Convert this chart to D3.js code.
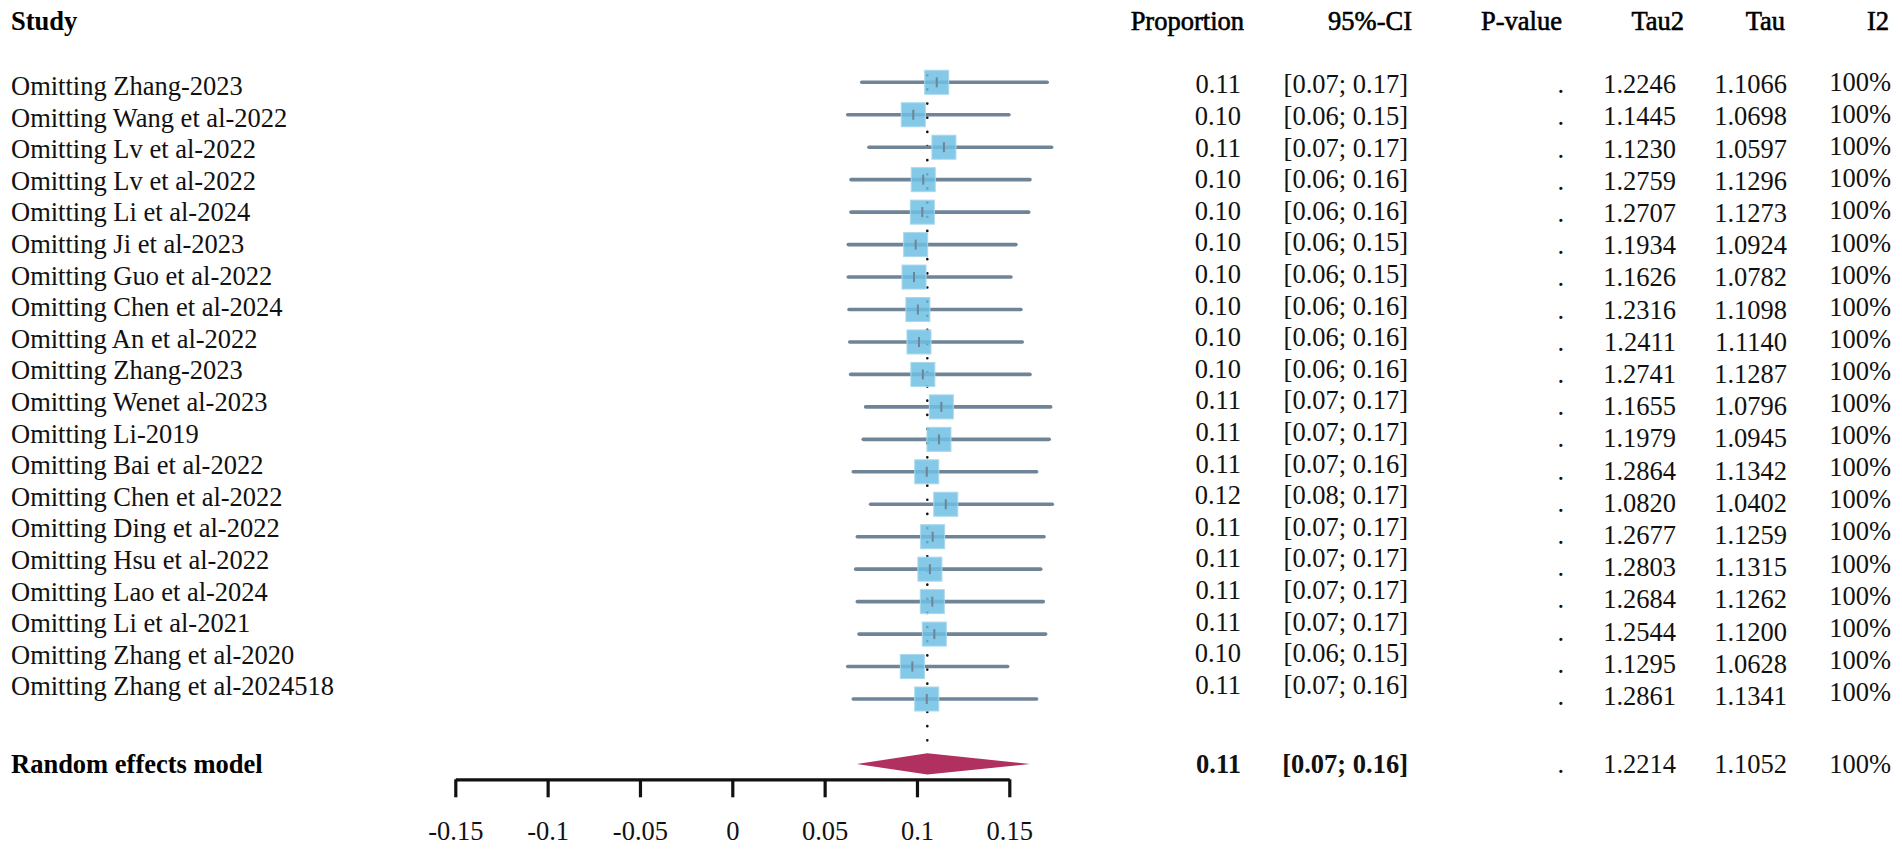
<!DOCTYPE html>
<html>
<head>
<meta charset="utf-8">
<script src="https://cdn.jsdelivr.net/npm/d3@7"></script>
<style>
  body { margin: 0; background: #fff; }
  text { font-family: "Liberation Serif", "Times New Roman", serif; }
</style>
</head>
<body>
<div class="chart"></div>
<script>
// studies (leave-one-out)
const studies = [
  "Omitting Zhang-2023", "Omitting Wang et al-2022", "Omitting Lv et al-2022", "Omitting Lv et al-2022",
  "Omitting Li et al-2024", "Omitting Ji et al-2023", "Omitting Guo et al-2022", "Omitting Chen et al-2024",
  "Omitting An et al-2022", "Omitting Zhang-2023", "Omitting Wenet al-2023", "Omitting Li-2019",
  "Omitting Bai et al-2022", "Omitting Chen et al-2022", "Omitting Ding et al-2022", "Omitting Hsu et al-2022",
  "Omitting Lao et al-2024", "Omitting Li et al-2021", "Omitting Zhang et al-2020", "Omitting Zhang et al-2024518"
]

// estimates and CI
const est = [0.1107, 0.0980, 0.1146, 0.1034, 0.1029, 0.0993, 0.0984, 0.1005, 0.1011, 0.1032,
             0.1132, 0.1119, 0.1053, 0.1156, 0.1085, 0.1070, 0.1083, 0.1094, 0.0975, 0.1053]
const lower = [0.0701, 0.0625, 0.0740, 0.0643, 0.0643, 0.0628, 0.0628, 0.0632, 0.0636, 0.0641,
               0.0722, 0.0709, 0.0655, 0.0749, 0.0677, 0.0668, 0.0677, 0.0686, 0.0625, 0.0655]
const upper = [0.1705, 0.1498, 0.1729, 0.1612, 0.1605, 0.1536, 0.1509, 0.1563, 0.1570, 0.1612,
               0.1724, 0.1716, 0.1648, 0.1733, 0.1688, 0.1670, 0.1684, 0.1697, 0.1491, 0.1648]

// printed columns
const propText = ["0.11", "0.10", "0.11", "0.10", "0.10", "0.10", "0.10", "0.10", "0.10", "0.10",
                  "0.11", "0.11", "0.11", "0.12", "0.11", "0.11", "0.11", "0.11", "0.10", "0.11"]
const ciText = ["[0.07; 0.17]", "[0.06; 0.15]", "[0.07; 0.17]", "[0.06; 0.16]", "[0.06; 0.16]",
                "[0.06; 0.15]", "[0.06; 0.15]", "[0.06; 0.16]", "[0.06; 0.16]", "[0.06; 0.16]",
                "[0.07; 0.17]", "[0.07; 0.17]", "[0.07; 0.16]", "[0.08; 0.17]", "[0.07; 0.17]",
                "[0.07; 0.17]", "[0.07; 0.17]", "[0.07; 0.17]", "[0.06; 0.15]", "[0.07; 0.16]"]
const pText = [".", ".", ".", ".", ".", ".", ".", ".", ".", ".", ".", ".", ".", ".", ".", ".", ".", ".", ".", "."]
const tau2Text = ["1.2246", "1.1445", "1.1230", "1.2759", "1.2707", "1.1934", "1.1626", "1.2316", "1.2411", "1.2741",
                  "1.1655", "1.1979", "1.2864", "1.0820", "1.2677", "1.2803", "1.2684", "1.2544", "1.1295", "1.2861"]
const tauText = ["1.1066", "1.0698", "1.0597", "1.1296", "1.1273", "1.0924", "1.0782", "1.1098", "1.1140", "1.1287",
                 "1.0796", "1.0945", "1.1342", "1.0402", "1.1259", "1.1315", "1.1262", "1.1200", "1.0628", "1.1341"]
const i2Text = ["100%", "100%", "100%", "100%", "100%", "100%", "100%", "100%", "100%", "100%",
                "100%", "100%", "100%", "100%", "100%", "100%", "100%", "100%", "100%", "100%"]

// pooled (random effects)
const pooledLabel = "Random effects model"
const pooledEst = 0.1056, pooledLo = 0.0674, pooledHi = 0.1612
const pooledText = ["0.11", "[0.07; 0.16]", ".", "1.2214", "1.1052", "100%"]

const headers = ["Proportion", "95%-CI", "P-value", "Tau2", "Tau", "I2"]
const tickValues = [-0.15, -0.1, -0.05, 0, 0.05, 0.1, 0.15]
const tickLabels = ["-0.15", "-0.1", "-0.05", "0", "0.05", "0.1", "0.15"]

const W = 1902, H = 852
const fs = 26.5

const svg = d3.select(".chart").append("svg")
  .attr("width", W)
  .attr("height", H)

const x = d3.scaleLinear().domain([-0.15, 0.15]).range([455.3, 1009.3])

const n = studies.length
// row positions (the text columns drift slightly against the plot rows in the original)
const yPlot = d3.scaleLinear().domain([0, n - 1]).range([82.3, 699])
const yLabel = d3.scaleLinear().domain([0, n - 1]).range([95, 695.4])
const yProp = d3.scaleLinear().domain([0, n - 1]).range([93.3, 693.7])
const yStat = d3.scaleLinear().domain([0, n - 1]).range([93.3, 705])
const yI2 = d3.scaleLinear().domain([0, n - 1]).range([91, 700.9])

const headerY = 30
const pooledY = 764, pooledTextY = 773
const axisY = 779.3

const colEnd = [1241, 1408, 1564, 1676, 1787, 1891]
const headEnd = [1244, 1412, 1562, 1684, 1785, 1889]

// headers
svg.append("text")
  .attr("x", 11).attr("y", headerY)
  .attr("font-size", fs).attr("font-weight", "bold")
  .text("Study")

svg.selectAll(".head")
  .data(headers)
  .enter().append("text")
  .attr("class", "head")
  .attr("x", (d, i) => headEnd[i])
  .attr("y", headerY)
  .attr("text-anchor", "end")
  .attr("font-size", fs)
  .attr("stroke", "#000").attr("stroke-width", 0.6)
  .text(d => d)

// study labels
svg.selectAll(".study")
  .data(studies)
  .enter().append("text")
  .attr("class", "study")
  .attr("x", 11)
  .attr("y", (d, i) => yLabel(i))
  .attr("font-size", fs)
  .attr("fill", "#111")
  .text(d => d)

// dotted pooled line
svg.append("line")
  .attr("x1", x(pooledEst)).attr("x2", x(pooledEst))
  .attr("y1", 75.2).attr("y2", 753)
  .attr("stroke", "#111")
  .attr("stroke-width", 2.6)
  .attr("stroke-linecap", "round")
  .attr("stroke-dasharray", "0.1 14.05")

// CI lines
svg.selectAll(".ci")
  .data(est)
  .enter().append("line")
  .attr("class", "ci")
  .attr("x1", (d, i) => x(lower[i]))
  .attr("x2", (d, i) => x(upper[i]))
  .attr("y1", (d, i) => yPlot(i))
  .attr("y2", (d, i) => yPlot(i))
  .attr("stroke", "#6f8497")
  .attr("stroke-width", 3.6)
  .attr("stroke-linecap", "round")

// squares
const sq = 24
svg.selectAll(".sq")
  .data(est)
  .enter().append("rect")
  .attr("class", "sq")
  .attr("x", d => x(d) - sq / 2)
  .attr("y", (d, i) => yPlot(i) - sq / 2)
  .attr("width", sq)
  .attr("height", sq)
  .attr("fill", "#6fc0e3")
  .attr("fill-opacity", 0.85)
  .attr("stroke", "#a9d8ec")
  .attr("stroke-width", 1)

// point tick inside square
svg.selectAll(".pt")
  .data(est)
  .enter().append("line")
  .attr("class", "pt")
  .attr("x1", d => x(d)).attr("x2", d => x(d))
  .attr("y1", (d, i) => yPlot(i) - 5)
  .attr("y2", (d, i) => yPlot(i) + 5)
  .attr("stroke", "#6f8497")
  .attr("stroke-width", 2)

// diamond
svg.append("polygon")
  .attr("points", [
    [x(pooledLo), pooledY],
    [x(pooledEst), pooledY - 10.7],
    [x(pooledHi), pooledY],
    [x(pooledEst), pooledY + 10.5]
  ].map(p => p.join(",")).join(" "))
  .attr("fill", "#b0305f")

// text columns
const cols = [propText, ciText, pText, tau2Text, tauText, i2Text]
const colY = [yProp, yProp, yStat, yStat, yStat, yI2]
cols.forEach(function(col, c) {
  svg.selectAll(".col" + c)
    .data(col)
    .enter().append("text")
    .attr("class", "col" + c)
    .attr("x", colEnd[c])
    .attr("y", (d, i) => colY[c](i))
    .attr("text-anchor", "end")
    .attr("font-size", fs)
    .attr("fill", "#111")
    .text(d => d)
})

// pooled row
svg.append("text")
  .attr("x", 11).attr("y", pooledTextY)
  .attr("font-size", fs).attr("font-weight", "bold")
  .text(pooledLabel)

svg.selectAll(".pooled")
  .data(pooledText)
  .enter().append("text")
  .attr("class", "pooled")
  .attr("x", (d, i) => colEnd[i])
  .attr("y", pooledTextY)
  .attr("text-anchor", "end")
  .attr("font-size", fs)
  .attr("font-weight", (d, i) => i < 2 ? "bold" : "normal")
  .attr("fill", "#111")
  .text(d => d)

// axis
const axis = svg.append("g")
  .attr("transform", "translate(0," + axisY + ")")
  .call(d3.axisBottom(x)
    .tickValues(tickValues)
    .tickFormat((d, i) => tickLabels[i])
    .tickSize(18)
    .tickSizeOuter(0))

axis.select(".domain").attr("stroke", "#111").attr("stroke-width", 3.2)
axis.selectAll(".tick line").attr("stroke", "#111").attr("stroke-width", 3.2)
axis.selectAll(".tick text")
  .attr("y", 61).attr("dy", 0)
  .attr("font-family", "Liberation Serif")
  .attr("font-size", fs)
  .attr("fill", "#111")
</script>
</body>
</html>
